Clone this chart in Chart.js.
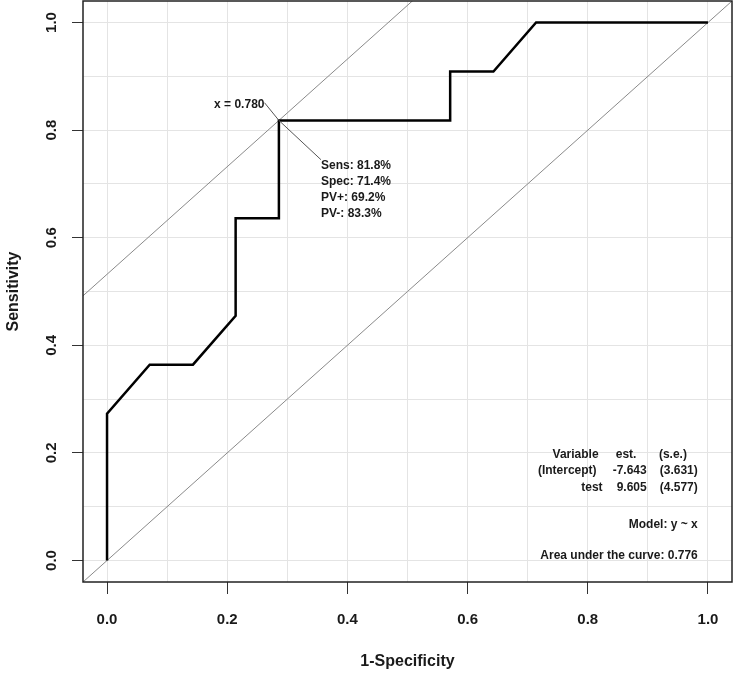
<!DOCTYPE html>
<html>
<head>
<meta charset="utf-8">
<script src="https://cdn.jsdelivr.net/npm/chart.js@4/dist/chart.umd.min.js"></script>
<style>
html,body{margin:0;padding:0;background:#fff;}
#wrap{width:733px;height:675px;}
</style>
</head>
<body>
<div id="wrap"><canvas id="c" width="733" height="675"></canvas></div>
<script>
// ---- data ----
const oneMinusSpec = [0, 0, 0.071, 0.143, 0.214, 0.214, 0.286, 0.286, 0.571, 0.571, 0.643, 0.714, 1.0];
const sensitivity  = [0, 0.273, 0.364, 0.364, 0.455, 0.636, 0.636, 0.818, 0.818, 0.909, 0.909, 1.0, 1.0];
const optPoint = [0.286, 0.818];
const cutoffLabel = "x = 0.780";
const optLabels = ["Sens: 81.8%", "Spec: 71.4%", "PV+: 69.2%", "PV-: 83.3%"];
const tableHeader = ["Variable", "est.", "(s.e.)"];
const tableVariables = ["(Intercept)", "test"];
const tableEst = ["-7.643", "9.605"];
const tableSE = ["(3.631)", "(4.577)"];
const modelLabel = "Model: y ~ x";
const aucLabel = "Area under the curve: 0.776";
const gridValues = [0, 0.1, 0.2, 0.3, 0.4, 0.5, 0.6, 0.7, 0.8, 0.9, 1.0];
const tickLabelValues = [0, 0.2, 0.4, 0.6, 0.8, 1.0];
const xTitle = "1-Specificity";
const yTitle = "Sensitivity";

const axisMin = -0.04, axisMax = 1.04;
const FONT = "'Liberation Sans', Arial, sans-serif";
const TEXT = "#1a1a1a";

const rocData = oneMinusSpec.map((x, i) => ({x: x, y: sensitivity[i]}));
const diagData = [{x: axisMin, y: axisMin}, {x: axisMax, y: axisMax}];
const icpt = optPoint[1] - optPoint[0];
const optLineData = [{x: axisMin, y: axisMin + icpt}, {x: axisMax, y: axisMax + icpt}];

const isLabelTick = v => tickLabelValues.some(t => Math.abs(t - v) < 1e-6);

const annot = {
  id: 'annot',
  afterDatasetsDraw(chart) {
    const ctx = chart.ctx, xs = chart.scales.x, ys = chart.scales.y;
    const ca = chart.chartArea;
    const px = v => xs.getPixelForValue(v), py = v => ys.getPixelForValue(v);
    ctx.save();
    ctx.beginPath();
    ctx.rect(ca.left, ca.top, ca.right - ca.left, ca.bottom - ca.top);
    ctx.clip();
    // leader lines
    const ox = px(optPoint[0]), oy = py(optPoint[1]);
    const upX = px(optPoint[0] - 0.024), upY = py(optPoint[1] + 0.033);
    const loX = px(optPoint[0] + 0.07), loY = py(optPoint[1] - 0.073);
    ctx.strokeStyle = '#555';
    ctx.lineWidth = 1;
    ctx.beginPath();
    ctx.moveTo(upX, upY); ctx.lineTo(ox, oy); ctx.lineTo(loX, loY);
    ctx.stroke();
    ctx.fillStyle = TEXT;
    ctx.font = "bold 12px " + FONT;
    ctx.textBaseline = 'middle';
    ctx.textAlign = 'right';
    ctx.fillText(cutoffLabel, upX, upY + 2);
    ctx.textAlign = 'left';
    optLabels.forEach((t, i) => ctx.fillText(t, loX, loY + 6 + i * 16));
    // model table (right aligned columns)
    ctx.textAlign = 'right';
    const c1 = px(0.818), c2 = px(0.898), c3 = px(0.983);
    const r0 = py(0.197);
    ctx.fillText(tableHeader[0], c1, r0);
    ctx.fillText(tableHeader[1], px(0.881), r0);
    ctx.fillText(tableHeader[2], px(0.965), r0);
    tableVariables.forEach((v, i) => {
      const yy = r0 + 16.5 * (i + 1);
      ctx.fillText(v, c1 - (i === 0 ? 2 : -4), yy);
      ctx.fillText(tableEst[i], c2, yy);
      ctx.fillText(tableSE[i], c3, yy);
    });
    ctx.fillText(modelLabel, c3, py(0.067));
    ctx.fillText(aucLabel, c3, py(0.009));
    ctx.restore();
  },
  afterDraw(chart) {
    const ctx = chart.ctx, ys = chart.scales.y, ca = chart.chartArea;
    ctx.save();
    // box
    ctx.strokeStyle = '#222';
    ctx.lineWidth = 1.5;
    ctx.strokeRect(ca.left, ca.top, ca.right - ca.left, ca.bottom - ca.top);
    // y tick labels (rotated, R style)
    ctx.fillStyle = TEXT;
    ctx.font = "bold 15px " + FONT;
    ctx.textAlign = 'center';
    ctx.textBaseline = 'middle';
    tickLabelValues.forEach(v => {
      ctx.save();
      ctx.translate(52, ys.getPixelForValue(v));
      ctx.rotate(-Math.PI / 2);
      ctx.fillText(v.toFixed(1), 0, 0);
      ctx.restore();
    });
    // titles
    ctx.font = "bold 16px " + FONT;
    ctx.fillText(xTitle, (ca.left + ca.right) / 2, 662);
    ctx.save();
    ctx.translate(14, (ca.top + ca.bottom) / 2);
    ctx.rotate(-Math.PI / 2);
    ctx.fillText(yTitle, 0, 0);
    ctx.restore();
    ctx.restore();
  }
};

const gridOpts = {
  color: '#e4e4e4',
  lineWidth: 1,
  drawTicks: true,
  tickColor: c => (c.tick && isLabelTick(c.tick.value)) ? '#333' : 'rgba(0,0,0,0)',
  tickWidth: 1
};

new Chart(document.getElementById('c'), {
  type: 'scatter',
  data: {
    datasets: [
      {data: diagData, showLine: true, borderColor: '#8a8a8a', borderWidth: 1, pointRadius: 0, order: 3},
      {data: optLineData, showLine: true, borderColor: '#8a8a8a', borderWidth: 1, pointRadius: 0, order: 2},
      {data: rocData, showLine: true, borderColor: '#000', borderWidth: 2.5, pointRadius: 0, tension: 0, order: 1}
    ]
  },
  options: {
    responsive: false,
    animation: false,
    devicePixelRatio: 1,
    layout: {padding: {top: 1, right: 1, left: 0, bottom: 0}},
    plugins: {legend: {display: false}, tooltip: {enabled: false}},
    scales: {
      x: {
        type: 'linear', min: axisMin, max: axisMax,
        afterBuildTicks: s => { s.ticks = gridValues.map(v => ({value: v})); },
        afterFit: s => { s.height = 93; s.paddingLeft = 0; s.paddingRight = 0; },
        border: {display: false},
        grid: Object.assign({}, gridOpts, {tickLength: 12}),
        ticks: {
          autoSkip: false, maxRotation: 0, minRotation: 0, padding: 17,
          color: TEXT, font: {family: FONT, size: 15, weight: 'bold'},
          callback: v => isLabelTick(v) ? Number(v).toFixed(1) : ''
        }
      },
      y: {
        type: 'linear', min: axisMin, max: axisMax,
        afterBuildTicks: s => { s.ticks = gridValues.map(v => ({value: v})); },
        afterFit: s => { s.width = 83; s.paddingTop = 0; s.paddingBottom = 0; },
        border: {display: false},
        grid: Object.assign({}, gridOpts, {tickLength: 11}),
        ticks: {color: 'rgba(0,0,0,0)', callback: () => ''}
      }
    }
  },
  plugins: [annot]
});
</script>
</body>
</html>
